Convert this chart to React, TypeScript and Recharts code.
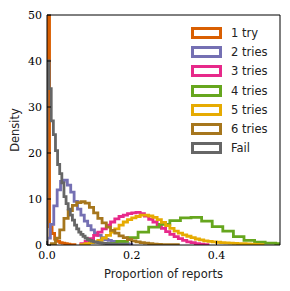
import * as React from 'react';
import { Label, Legend, Line, LineChart, XAxis, YAxis } from 'recharts';

const names = ['1 try', '2 tries', '3 tries', '4 tries', '5 tries', '6 tries', 'Fail'];
const colors = ['#d95f02', '#7570b3', '#e7298a', '#66a61e', '#e6ab02', '#a6761d', '#666666'];

// each histogram: left edge of first bin, bin width, density of every bin
const binStart = [0, 0, 0.08, 0.14, 0.08, 0.01, 0];
const binWidth = [0.006, 0.008, 0.01, 0.025, 0.01, 0.01, 0.005];

const oneTry = [160, 4, 2.5, 1.3, 0.8, 0.5, 0.4, 0.3, 0.2, 0.1, 0.1];
const twoTries = [1.5, 4.5, 8.5, 12, 13.8, 14.1, 13, 11.5, 9.5, 7.8, 6.5, 5.2, 4.2, 3.3, 2.6, 2.1, 1.6, 1.2, 1.0, 0.8, 0.6, 0.5, 0.4, 0.3, 0.2];
const threeTries = [0.3, 0.8, 1.4, 2.1, 2.8, 3.5, 4.3, 5.0, 5.7, 6.2, 6.5, 6.8, 7.0, 7.1, 6.8, 6.3, 5.6, 5.0, 4.3, 3.6, 2.9, 2.3, 1.8, 1.4, 1.0, 0.7, 0.5, 0.3, 0.2, 0.1];
const fourTries = [0.3, 0.8, 1.6, 2.8, 3.9, 4.5, 5.3, 5.9, 6.0, 5.2, 4.0, 3.0, 1.8, 1.0, 0.6, 0.4, 0.3];
const fiveTries = [0.1, 0.3, 0.5, 0.7, 1.0, 1.5, 2.1, 2.8, 3.5, 4.3, 5.0, 5.5, 5.9, 6.2, 6.5, 6.5, 6.3, 6.0, 5.5, 4.9, 4.2, 3.6, 3.0, 2.6, 2.2, 1.9, 1.6, 1.3, 1.1, 0.9, 0.8, 0.7, 0.6, 0.5, 0.45, 0.4, 0.35, 0.3, 0.3, 0.25, 0.2, 0.15, 0.1];
const sixTries = [0.3, 1.5, 3.3, 5.8, 7.5, 8.6, 9.2, 9.4, 9.1, 8.2, 7.0, 5.8, 4.8, 3.9, 3.2, 2.6, 2.0, 1.6, 1.2, 0.9, 0.7, 0.5, 0.4, 0.3, 0.2, 0.15, 0.1, 0.1, 0.05, 0.05];
const fail = [40, 34, 27, 24, 20.5, 17.5, 15.5, 13.5, 10.5, 9.0, 7.8, 6.5, 5.4, 4.3, 3.5, 2.8, 2.3, 1.9, 1.5, 1.2, 1.0, 0.85, 0.7, 0.6, 0.5, 0.45, 0.4, 0.35, 0.3, 0.25, 0.2, 0.2, 0.15, 0.1, 0.1, 0.1, 0.05, 0.05];

const densities = [oneTry, twoTries, threeTries, fourTries, fiveTries, sixTries, fail];

const xTicks = [0, 0.2, 0.4];
const yTicks = [0, 10, 20, 30, 40, 50];

// outline of a step histogram (like histtype='step')
function toSteps(start: number, width: number, dens: number[]) {
    const pts = [{ x: start, y: 0 }];
    dens.forEach((d, i) => pts.push({ x: start + i * width, y: d }));
    const end = start + dens.length * width;
    pts.push({ x: end, y: dens[dens.length - 1] });
    pts.push({ x: end, y: 0 });
    return pts;
}

const tickFont = { fontFamily: 'DejaVu Serif', fontSize: 11, fill: '#000' };
const labelFont = 'DejaVu Sans';

const renderLegend = () => (
    <div style={{ fontFamily: labelFont, fontSize: 11.5, color: '#222' }}>
        {names.map((n, i) => (
            <div key={n} style={{ display: 'flex', alignItems: 'center', height: 19.3 }}>
                <div style={{
                    width: 31, height: 12, boxSizing: 'border-box',
                    border: `3px solid ${colors[i]}`, background: '#fff'
                }} />
                <span style={{ marginLeft: 9, whiteSpace: 'nowrap' }}>{n}</span>
            </div>
        ))}
    </div>
);

export default function App() {
    return (
        <div style={{ position: 'absolute', left: 0, top: 0, background: '#fff' }}>
            <LineChart width={290} height={291} margin={{ top: 14, right: 9, left: 0, bottom: 0 }}>
                <XAxis xAxisId={0} type="number" dataKey="x" domain={[0, 0.55]} allowDataOverflow
                    ticks={xTicks} tickFormatter={(v: number) => v.toFixed(1)}
                    height={46} tickSize={-4} tickMargin={10} tick={tickFont}
                    axisLine={{ stroke: '#000', strokeWidth: 1 }} tickLine={{ stroke: '#000' }}>
                    <Label content={() => (
                        <text x={163.5} y={278} textAnchor="middle" fontFamily={labelFont}
                            fontSize={11.5} fill="#222">Proportion of reports</text>
                    )} />
                </XAxis>
                <XAxis xAxisId="top" orientation="top" type="number" domain={[0, 0.55]} allowDataOverflow
                    ticks={xTicks} height={1} tickSize={-4} tick={false}
                    axisLine={{ stroke: '#000', strokeWidth: 1 }} tickLine={{ stroke: '#000' }} />
                <YAxis yAxisId={0} type="number" domain={[0, 50]} allowDataOverflow ticks={yTicks}
                    width={47} tickSize={-4} tickMargin={9} tick={tickFont}
                    axisLine={{ stroke: '#000', strokeWidth: 1 }} tickLine={{ stroke: '#000' }}>
                    <Label content={() => (
                        <text x={19} y={130} transform="rotate(-90 19 130)" textAnchor="middle"
                            fontFamily={labelFont} fontSize={11.5} fill="#222">Density</text>
                    )} />
                </YAxis>
                <YAxis yAxisId="right" orientation="right" type="number" domain={[0, 50]} allowDataOverflow
                    ticks={yTicks} width={1} tickSize={-4} tick={false}
                    axisLine={{ stroke: '#000', strokeWidth: 1 }} tickLine={{ stroke: '#000' }} />
                {densities.map((dens, i) => (
                    <Line key={names[i]} data={toSteps(binStart[i], binWidth[i], dens)}
                        dataKey="y" name={names[i]} type="stepAfter" stroke={colors[i]}
                        strokeWidth={2.8} dot={false} activeDot={false} isAnimationActive={false} />
                ))}
                <Legend layout="vertical" align="center" verticalAlign="middle" content={renderLegend}
                    wrapperStyle={{ position: 'absolute', left: 191, top: 23, width: 'auto', height: 'auto' }} />
            </LineChart>
        </div>
    );
}
